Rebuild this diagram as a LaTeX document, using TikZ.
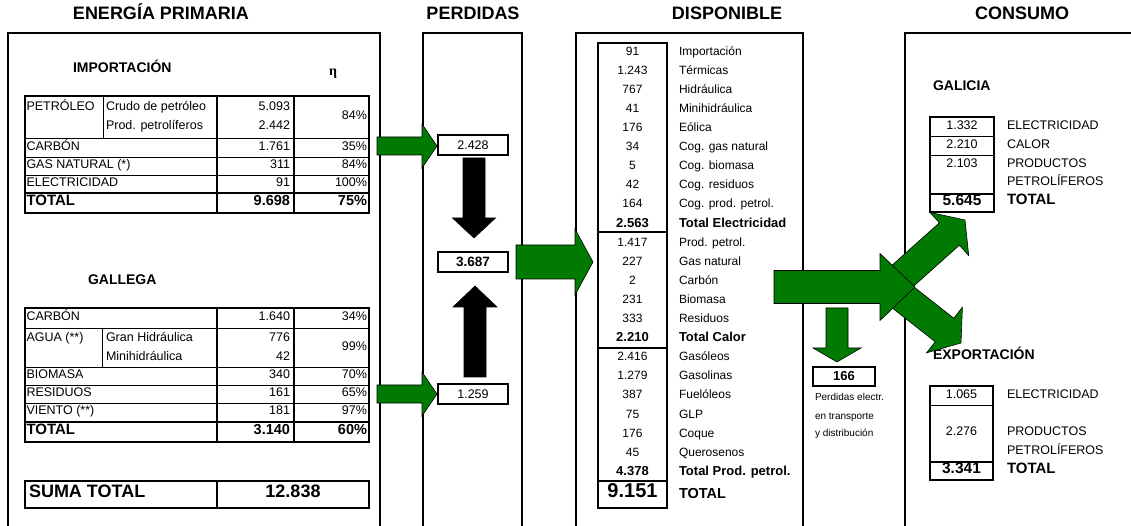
\documentclass[tikz,border=0pt]{standalone}
\usepackage{fontspec}
\setmainfont{Liberation Sans}
\newfontfamily\etafont{Liberation Serif}
\usetikzlibrary{calc}
\definecolor{agreen}{RGB}{0,122,0}
\newcommand\fs[1]{\fontsize{#1bp}{#1bp}\selectfont}
\newcommand\tb[1]{{\fs{13}\bfseries #1}}
\newcommand\blockarrow[6][]{%
  \coordinate (ba-h) at ($(#3)!#6!(#2)$);
  \filldraw[#1] ($(#2)!#4!90:(#3)$) -- ($(ba-h)!#4!90:(#3)$) -- ($(ba-h)!#5!90:(#3)$) -- (#3) -- ($(ba-h)!#5!-90:(#3)$) -- ($(ba-h)!#4!-90:(#3)$) -- ($(#2)!#4!-90:(#3)$) -- cycle;}
\tikzset{
  every node/.style={inner sep=0pt, outer sep=0pt},
  panel/.style={line width=1.8bp},
  outer/.style={line width=1.6bp},
  thin/.style={line width=0.7bp},
  med/.style={line width=1.2bp},
  garrow/.style={fill=agreen, draw=black, line width=0.6bp, line join=miter},
  karrow/.style={fill=black, draw=black, line width=0.6bp},
  ttl/.style={font=\fs{18}\bfseries, anchor=mid},
  hdr/.style={font=\fs{14}\bfseries},
  txt/.style={font=\fs{12.5}},
  txb/.style={font=\fs{14.5}\bfseries},
  dsp/.style={font=\fs{12}},
  small/.style={font=\fs{10}},
  valbox/.style={draw, line width=1.6bp, minimum width=70bp, minimum height=20bp, font=\fs{12.5}},
}
\begin{document}
\begin{tikzpicture}[x=1bp,y=-1bp]
\useasboundingbox (0,0) rectangle (1131,526);
\clip (0,0) rectangle (1131,526);
% titles
\node[ttl] (t1) at (161,17) {ENERGÍA PRIMARIA};
\node[ttl] (t2) at (473,17) {PERDIDAS};
\node[ttl] (t3) at (727,17) {DISPONIBLE};
\node[ttl] (t4) at (1022,17) {CONSUMO};
% panels
\draw[panel] (8,540) -- (8,33) -- (380,33) -- (380,540);
\draw[panel] (423,540) -- (423,33) -- (522,33) -- (522,540);
\draw[panel] (576,540) -- (576,33) -- (803,33) -- (803,540);
\draw[panel] (905,540) -- (905,33) -- (1140,33);

% ---------- IMPORTACION ----------
\node[hdr, anchor=mid west] (himp) at (73,70) {IMPORTACIÓN};
\node[font=\etafont\fs{14}\bfseries, anchor=mid] (heta) at (333,73) {η};
\draw[thin] (25,138) -- (369,138) (25,157) -- (369,157) (25,175) -- (369,175);
\draw[thin] (103,96) -- (103,138);
\draw[med] (217,96) -- (217,213) (294,96) -- (294,213);
\draw[outer] (25,193) -- (369,193);
\draw[outer] (25,96) rectangle (369,213);
\node[txt, anchor=mid west] (i1) at (26.5,108) {PETRÓLEO};
\node[txt, anchor=mid west] (i1a) at (106,108) {Crudo de petróleo};
\node[txt, anchor=mid west] (i1b) at (106,127) {Prod. petrolíferos};
\node[txt, anchor=mid east] (v1a) at (290,108) {5.093};
\node[txt, anchor=mid east] (v1b) at (290,127) {2.442};
\node[txt, anchor=mid east] (p1) at (367,117) {84\%};
\node[txt, anchor=mid west] (i2) at (26.5,148) {CARBÓN};
\node[txt, anchor=mid east] (v2) at (290,148) {1.761};
\node[txt, anchor=mid east] (p2) at (367,148) {35\%};
\node[txt, anchor=mid west] (i3) at (26.5,166) {GAS NATURAL (*)};
\node[txt, anchor=mid east] (v3) at (290,166) {311};
\node[txt, anchor=mid east] (p3) at (367,166) {84\%};
\node[txt, anchor=mid west] (i4) at (26.5,184) {ELECTRICIDAD};
\node[txt, anchor=mid east] (v4) at (290,184) {91};
\node[txt, anchor=mid east] (p4) at (367,184) {100\%};
\node[font=\fs{15}\bfseries, anchor=mid west] (i5) at (26.5,203) {TOTAL};
\node[txb, anchor=mid east] (v5) at (290,203) {9.698};
\node[txb, anchor=mid east] (p5) at (367,203) {75\%};

% ---------- GALLEGA ----------
\node[hdr, anchor=mid west] (hgal) at (88,282) {GALLEGA};
\draw[thin] (25,328) -- (369,328) (25,367) -- (369,367) (25,385) -- (369,385) (25,403) -- (369,403);
\draw[thin] (102,328) -- (102,367);
\draw[med] (217,308) -- (217,442) (294,308) -- (294,442);
\draw[outer] (25,422) -- (369,422);
\draw[outer] (25,308) rectangle (369,442);
\node[txt, anchor=mid west] (g1) at (26.5,318) {CARBÓN};
\node[txt, anchor=mid east] (w1) at (290,318) {1.640};
\node[txt, anchor=mid east] (q1) at (367,318) {34\%};
\node[txt, anchor=mid west] (g2) at (26.5,339) {AGUA (**)};
\node[txt, anchor=mid west] (g2a) at (106,339) {Gran Hidráulica};
\node[txt, anchor=mid west] (g2b) at (106,358) {Minihidráulica};
\node[txt, anchor=mid east] (w2a) at (290,339) {776};
\node[txt, anchor=mid east] (w2b) at (290,358) {42};
\node[txt, anchor=mid east] (q2) at (367,348) {99\%};
\node[txt, anchor=mid west] (g3) at (26.5,376) {BIOMASA};
\node[txt, anchor=mid east] (w3) at (290,376) {340};
\node[txt, anchor=mid east] (q3) at (367,376) {70\%};
\node[txt, anchor=mid west] (g4) at (26.5,394) {RESIDUOS};
\node[txt, anchor=mid east] (w4) at (290,394) {161};
\node[txt, anchor=mid east] (q4) at (367,394) {65\%};
\node[txt, anchor=mid west] (g5) at (26.5,412) {VIENTO (**)};
\node[txt, anchor=mid east] (w5) at (290,412) {181};
\node[txt, anchor=mid east] (q5) at (367,412) {97\%};
\node[font=\fs{15}\bfseries, anchor=mid west] (g6) at (26.5,432) {TOTAL};
\node[txb, anchor=mid east] (w6) at (290,432) {3.140};
\node[txb, anchor=mid east] (q6) at (367,432) {60\%};

% ---------- SUMA TOTAL ----------
\draw[outer] (25,481) rectangle (369,508);
\draw[outer] (217,481) -- (217,508);
\node[font=\fs{18}\bfseries, anchor=mid west] (st) at (29,495) {SUMA TOTAL};
\node[font=\fs{18}\bfseries, anchor=mid] (stv) at (293,495) {12.838};

% ---------- PERDIDAS ----------
\node[valbox] (b2428) at (473,145) {2.428};
\node[valbox, font=\fs{13.5}\bfseries] (b3687) at (473,262) {3.687};
\node[valbox] (b1259) at (473,394) {1.259};

% ---------- DISPONIBLE ----------
\draw[outer] (598,232) -- (667,232) (598,348) -- (667,348) (598,481) -- (667,481);
\draw[outer] (598,43) rectangle (667,508);
\foreach \n/\l [count=\i from 0] in {91/Importación, 1.243/Térmicas, 767/Hidráulica, 41/Minihidráulica, 176/Eólica, 34/Cog. gas natural, 5/Cog. biomasa, 42/Cog. residuos, 164/Cog. prod. petrol., \tb{2.563}/\tb{Total Electricidad}, 1.417/Prod. petrol., 227/Gas natural, 2/Carbón, 231/Biomasa, 333/Residuos, \tb{2.210}/\tb{Total Calor}, 2.416/Gasóleos, 1.279/Gasolinas, 387/Fuelóleos, 75/GLP, 176/Coque, 45/Querosenos, \tb{4.378}/\tb{Total Prod. petrol.}}{
  \node[dsp, anchor=mid] (dn\i) at (632.5,{52.5+19.1*\i}) {\n};
  \node[dsp, anchor=mid west] (dl\i) at (679,{52.5+19.1*\i}) {\l};
}
\node[font=\fs{20}\bfseries, anchor=mid] (dtot) at (632.5,495) {9.151};
\node[font=\fs{14.5}\bfseries, anchor=mid west] (dtotl) at (679,496) {TOTAL};

% ---------- perdidas electr ----------
\node[draw, line width=1.6bp, minimum width=62bp, minimum height=19bp, font=\fs{13}\bfseries] (b166) at (844,376.5) {166};
\node[small, anchor=mid west] (pe1) at (815,398) {Perdidas electr.};
\node[small, anchor=mid west] (pe2) at (815,417) {en transporte};
\node[small, anchor=mid west] (pe3) at (815,434) {y distribución};

% ---------- CONSUMO ----------
\node[hdr, anchor=mid west] (hgalc) at (933,88) {GALICIA};
\draw[thin] (930,136) -- (994,136) (930,155) -- (994,155);
\draw[outer] (930,194) -- (994,194);
\draw[outer] (930,117) rectangle (994,212);
\node[txt, anchor=mid] (c1) at (962,127) {1.332};
\node[txt, anchor=mid] (c2) at (962,146) {2.210};
\node[txt, anchor=mid] (c3) at (962,165) {2.103};
\node[font=\fs{15.5}\bfseries, anchor=mid] (c4) at (962,203) {5.645};
\node[txt, anchor=mid west] (cl1) at (1007,127) {ELECTRICIDAD};
\node[txt, anchor=mid west] (cl2) at (1007,146) {CALOR};
\node[txt, anchor=mid west] (cl3) at (1007,165) {PRODUCTOS};
\node[txt, anchor=mid west] (cl3b) at (1007,183) {PETROLÍFEROS};
\node[font=\fs{15}\bfseries, anchor=mid west] (cl4) at (1007,202) {TOTAL};

\node[hdr, anchor=mid west] (hexp) at (933,357) {EXPORTACIÓN};
\draw[thin] (930,405) -- (993,405);
\draw[outer] (930,462) -- (993,462);
\draw[outer] (930,386) rectangle (993,480);
\node[txt, anchor=mid] (e1) at (961.5,396) {1.065};
\node[txt, anchor=mid] (e2) at (961.5,433) {2.276};
\node[font=\fs{15.5}\bfseries, anchor=mid] (e3) at (961.5,471) {3.341};
\node[txt, anchor=mid west] (el1) at (1007,396) {ELECTRICIDAD};
\node[txt, anchor=mid west] (el2) at (1007,433) {PRODUCTOS};
\node[txt, anchor=mid west] (el2b) at (1007,452) {PETROLÍFEROS};
\node[font=\fs{15}\bfseries, anchor=mid west] (el3) at (1007,471) {TOTAL};

% ---------- arrows ----------
\coordinate (a1s) at (377,146);
\coordinate (a1e) at ($(b2428.west)+(-1,1)$);
\blockarrow[garrow]{a1s}{a1e}{9bp}{22bp}{15bp}
\coordinate (a2s) at (377,394);
\coordinate (a2e) at ($(b1259.west)+(-1,0)$);
\blockarrow[garrow]{a2s}{a2e}{9bp}{22bp}{15bp}
\coordinate (k1s) at ($(b2428.south)+(1,3)$);
\coordinate (k1e) at (474,238);
\blockarrow[karrow]{k1s}{k1e}{11bp}{21.5bp}{20bp}
\coordinate (k2s) at ($(b1259.north)+(2,-7)$);
\coordinate (k2e) at (475,286);
\blockarrow[karrow]{k2s}{k2e}{11bp}{22bp}{21bp}
\coordinate (a3s) at (516,262);
\coordinate (a3e) at (593,262);
\blockarrow[garrow]{a3s}{a3e}{17bp}{33bp}{18bp}
\coordinate (a5s) at (888,289);
\coordinate (a5e) at (965,220);
\blockarrow[garrow]{a5s}{a5e}{15bp}{29bp}{21bp}
\coordinate (a6s) at (886,284);
\coordinate (a6e) at (961,343);
\blockarrow[garrow]{a6s}{a6e}{15bp}{29bp}{21bp}
\coordinate (a4s) at (774,287);
\coordinate (a4e) at (915,287);
\blockarrow[garrow]{a4s}{a4e}{16.5bp}{33.5bp}{35bp}
\coordinate (a7s) at (837,308);
\coordinate (a7e) at ($(b166.north)+(-7,-5)$);
\blockarrow[garrow]{a7s}{a7e}{11bp}{24bp}{14bp}
\end{tikzpicture}
\end{document}
